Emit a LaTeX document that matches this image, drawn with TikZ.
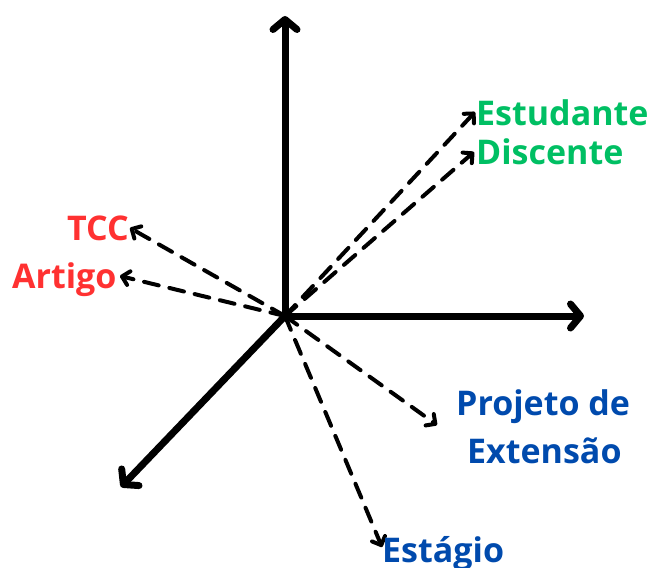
\documentclass[tikz,border=0pt]{standalone}
\usepackage{fontspec}
\setmainfont{Open Sans}
\usetikzlibrary{arrows.meta}
\definecolor{lblred}{HTML}{FF3131}
\definecolor{lblgreen}{HTML}{00BF63}
\definecolor{lblblue}{HTML}{004AAD}
\begin{document}
\begin{tikzpicture}[x=1pt,y=-1pt,
  axis/.style={line width=7pt,line cap=round,-{Straight Barb[length=10pt,width=24pt,line cap=round,line join=round]}},
  dasharrow/.style={line width=4pt,line cap=round,dash pattern=on 15pt off 11pt,-{Straight Barb[length=7pt,width=14pt,line cap=round,line join=round]}},
  lbl/.style={inner sep=0pt,anchor=base west,font=\bfseries\fontsize{34}{40}\selectfont}]
\useasboundingbox (0,0) rectangle (654,568);
\coordinate (O) at (285,316);
\coordinate (up) at (285,16);
\coordinate (right) at (584,316);
\coordinate (dl) at (121,487);
\coordinate (eEst) at (475,112);
\coordinate (eDis) at (474,152);
\coordinate (eTCC) at (130,228);
\coordinate (eArt) at (120,276);
\coordinate (ePro) at (437,425);
\coordinate (eEsg) at (382,547);
\draw[axis] (O) -- (up);
\draw[axis] (O) -- (right);
\draw[axis] (O) -- (dl);
\draw[dasharrow] (O) -- (eEst);
\draw[dasharrow] (O) -- (eDis);
\draw[dasharrow] (O) -- (eTCC);
\draw[dasharrow] (O) -- (eArt);
\draw[dasharrow] (O) -- (ePro);
\draw[dasharrow] (O) -- (eEsg);
\node[lbl,text=lblgreen] (est) at (476,125) {Estudante};
\node[lbl,text=lblgreen] (dis) at (476,164) {Discente};
\node[lbl,text=lblred] (tcc) at (67,240) {TCC};
\node[lbl,text=lblred] (art) at (12,288) {Artigo};
\node[lbl,text=lblblue] (pro) at (456,415) {Projeto de};
\node[lbl,text=lblblue] (ext) at (467,463) {Extensão};
\node[lbl,text=lblblue] (esg) at (382,562) {Estágio};
\end{tikzpicture}
\end{document}
